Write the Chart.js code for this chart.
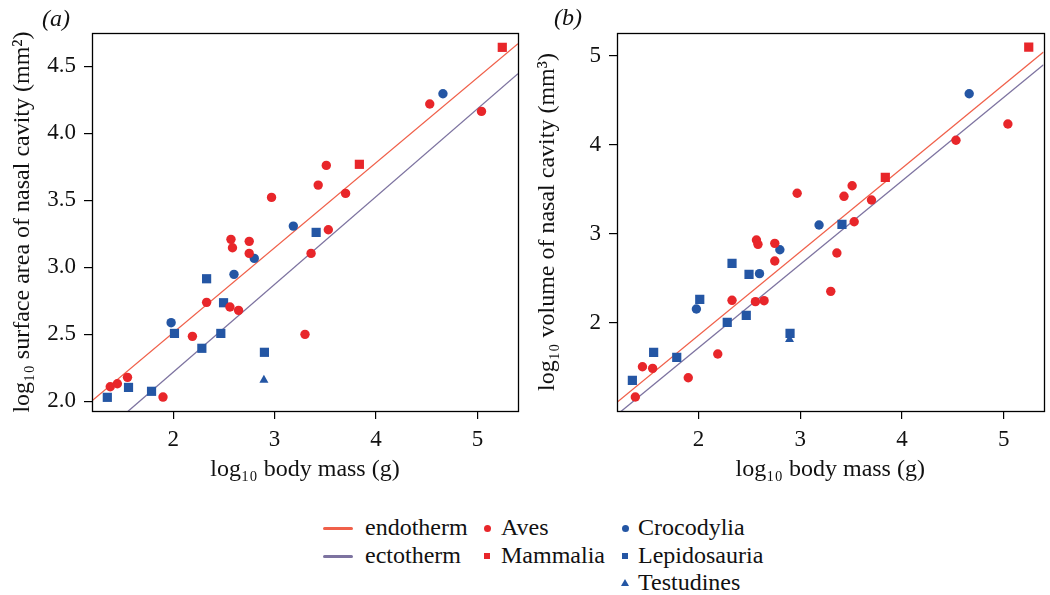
<!DOCTYPE html>
<html>
<head>
<meta charset="utf-8">
<script src="https://cdn.jsdelivr.net/npm/chart.js@4.4.1/dist/chart.umd.min.js"></script>
<style>
  html, body { margin:0; padding:0; background:#fff; }
  body { width:1050px; height:595px; position:relative; overflow:hidden; font-family:"Liberation Serif","DejaVu Serif",serif; color:#111; }
  canvas.c { position:absolute; top:0; }
  .lab { position:absolute; font-style:italic; font-size:24px; line-height:28px; }
  .lg { position:absolute; font-size:24px; line-height:28px; white-space:nowrap; }
  .ln { position:absolute; width:30px; height:3px; border-radius:1.5px; }
  .mk { position:absolute; }
</style>
</head>
<body>
<canvas id="chartA" class="c" width="525" height="500" style="left:0;width:525px;height:500px"></canvas>
<canvas id="chartB" class="c" width="525" height="500" style="left:525px;width:525px;height:500px"></canvas>
<div class="lab" style="left:42px;top:4px">(a)</div>
<div class="lab" style="left:554px;top:3px">(b)</div>

<div id="legend"></div>

<script>
// ---------------- DATA ----------------
// log10 body mass (g) per group
const avesMass   = [5.04, 4.53, 3.51, 3.43, 3.70, 2.97, 3.53, 2.57, 2.75, 2.585, 2.75, 3.36, 2.33, 2.56, 2.645, 2.19, 3.30, 1.38, 1.45, 1.55, 1.90];
const mammMass   = [5.245, 3.836];
const crocMass   = [4.66, 3.185, 2.80, 2.60, 1.98];
const lepiMass   = [3.41, 2.33, 2.497, 2.013, 2.47, 2.283, 2.90, 1.56, 1.787, 1.351];
const testMass   = [2.895];

// (a) log10 surface area of nasal cavity (mm^2)
const avesArea   = [4.164, 4.219, 3.761, 3.614, 3.552, 3.522, 3.281, 3.209, 3.194, 3.146, 3.104, 3.104, 2.739, 2.704, 2.679, 2.485, 2.500, 2.109, 2.131, 2.179, 2.032];
const mammArea   = [4.642, 3.769];
const crocArea   = [4.296, 3.308, 3.067, 2.948, 2.587];
const lepiArea   = [3.261, 2.915, 2.736, 2.507, 2.507, 2.396, 2.366, 2.104, 2.075, 2.030];
const testArea   = [2.159];

// (b) log10 volume of nasal cavity (mm^3)
const avesVol    = [4.235, 4.052, 3.541, 3.422, 3.380, 3.456, 3.136, 2.930, 2.893, 2.882, 2.694, 2.784, 2.252, 2.237, 2.248, 1.648, 2.353, 1.164, 1.505, 1.487, 1.381];
const mammVol    = [5.101, 3.636];
const crocVol    = [4.576, 3.099, 2.821, 2.552, 2.154];
const lepiVol    = [3.107, 2.668, 2.544, 2.263, 2.083, 2.004, 1.881, 1.667, 1.611, 1.352];
const testVol    = [1.813];

// fitted lines [intercept, slope]
const endoFitA = [1.242, 0.6347];
const ectoFitA = [0.907, 0.6552];
const endoFitB = [-0.024, 0.9407];
const ectoFitB = [-0.162, 0.9396];

// axis limits and tick labels
const xRangeA = [1.2, 5.4];
const yRangeA = [1.928, 4.749];
const xRangeB = [1.2, 5.39];
const yRangeB = [1.007, 5.259];
const xTicks  = [2, 3, 4, 5];
const yTicksA = [2.0, 2.5, 3.0, 3.5, 4.0, 4.5];
const yTicksB = [2, 3, 4, 5];

// ---------------- STYLE ----------------
const RED = '#e8262a';
const BLUE = '#2456a4';
const ENDO = '#f0604a';
const ECTO = '#7d73a0';
const FONT = '"Liberation Serif", "DejaVu Serif", serif';

function pts(xs, ys) { return xs.map((x, i) => ({x: x, y: ys[i]})); }
function fitLine(fit, range) { return range.map(x => ({x: x, y: fit[0] + fit[1] * x})); }

const boxPlugin = {
  id: 'box',
  afterDraw(chart) {
    const {ctx, chartArea: a} = chart;
    ctx.save();
    ctx.strokeStyle = '#000';
    ctx.lineWidth = 1.3;
    ctx.strokeRect(Math.round(a.left) + 0.5, Math.round(a.top) + 0.5,
                   Math.round(a.right - a.left), Math.round(a.bottom - a.top));
    ctx.restore();
  }
};

function makeChart(id, ys, fits, xRange, yRange, yTicks, yFmt, yTitle, padRight) {
  const scat = (label, xs, yv, color, style, r) => ({
    type: 'scatter', label, data: pts(xs, yv),
    backgroundColor: color, borderColor: color, borderWidth: 0,
    pointStyle: style, pointRadius: r, pointHoverRadius: r, order: 1
  });
  const line = (label, fit, color) => ({
    type: 'line', label, data: fitLine(fit, xRange),
    borderColor: color, borderWidth: 1.3, pointRadius: 0, fill: false,
    tension: 0, order: 2
  });
  return new Chart(document.getElementById(id), {
    type: 'scatter',
    data: {
      datasets: [
        scat('Aves', avesMass, ys[0], RED, 'circle', 4.7),
        scat('Mammalia', mammMass, ys[1], RED, 'rect', 6.5),
        scat('Crocodylia', crocMass, ys[2], BLUE, 'circle', 4.7),
        scat('Lepidosauria', lepiMass, ys[3], BLUE, 'rect', 6.5),
        scat('Testudines', testMass, ys[4], BLUE, 'triangle', 5.2),
        line('endotherm', fits[0], ENDO),
        line('ectotherm', fits[1], ECTO)
      ]
    },
    options: {
      responsive: false,
      animation: false,
      devicePixelRatio: 1,
      layout: { padding: { top: 33, right: padRight, left: 0, bottom: 0 } },
      plugins: { legend: { display: false }, tooltip: { enabled: false } },
      scales: {
        x: {
          type: 'linear', min: xRange[0], max: xRange[1],
          afterBuildTicks: s => { s.ticks = xTicks.map(v => ({value: v})); },
          afterFit: s => { s.height = 89; },
          grid: { display: true, drawOnChartArea: false, drawTicks: true, tickLength: 8, color: '#000', lineWidth: 1.2 },
          border: { display: false },
          ticks: { color: '#111', padding: 7, font: { family: FONT, size: 23 }, callback: v => String(v) },
          title: { display: true, text: 'log\u2081\u2080 body mass (g)', color: '#111',
                   font: { family: FONT, size: 24 }, padding: { top: 0, bottom: 16 } }
        },
        y: {
          type: 'linear', min: yRange[0], max: yRange[1],
          afterBuildTicks: s => { s.ticks = yTicks.map(v => ({value: v})); },
          afterFit: s => { s.width = 92; },
          grid: { display: true, drawOnChartArea: false, drawTicks: true, tickLength: 8, color: '#000', lineWidth: 1.2 },
          border: { display: false },
          ticks: { color: '#111', padding: 8, font: { family: FONT, size: 23 }, callback: yFmt },
          title: { display: true, text: yTitle, color: '#111',
                   font: { family: FONT, size: 24 }, padding: { top: 8, bottom: 0 } }
        }
      }
    },
    plugins: [boxPlugin]
  });
}

makeChart('chartA', [avesArea, mammArea, crocArea, lepiArea, testArea], [endoFitA, ectoFitA],
          xRangeA, yRangeA, yTicksA, v => Number(v).toFixed(1),
          'log\u2081\u2080 surface area of nasal cavity (mm\u00b2)', 7);
makeChart('chartB', [avesVol, mammVol, crocVol, lepiVol, testVol], [endoFitB, ectoFitB],
          xRangeB, yRangeB, yTicksB, v => String(Math.round(v)),
          'log\u2081\u2080 volume of nasal cavity (mm\u00b3)', 3);

// ---------------- LEGEND (HTML) ----------------
const legendLines = [
  { label: 'endotherm', color: ENDO },
  { label: 'ectotherm', color: ECTO }
];
const legendGroups = [
  { label: 'Aves', color: RED, shape: 'circle', col: 0, row: 0 },
  { label: 'Mammalia', color: RED, shape: 'square', col: 0, row: 1 },
  { label: 'Crocodylia', color: BLUE, shape: 'circle', col: 1, row: 0 },
  { label: 'Lepidosauria', color: BLUE, shape: 'square', col: 1, row: 1 },
  { label: 'Testudines', color: BLUE, shape: 'triangle', col: 1, row: 2 }
];
const lg = document.getElementById('legend');
const rowY = [528, 556, 583];
legendLines.forEach((d, i) => {
  const l = document.createElement('div');
  l.className = 'ln';
  l.style.left = '323px'; l.style.top = (rowY[i] - 1.5) + 'px'; l.style.background = d.color;
  lg.appendChild(l);
  const t = document.createElement('div');
  t.className = 'lg'; t.textContent = d.label;
  t.style.left = '365px'; t.style.top = (rowY[i] - 15) + 'px';
  lg.appendChild(t);
});
const colMarkX = [487, 625];
const colTextX = [501, 638];
legendGroups.forEach(d => {
  const cy = rowY[d.row], cx = colMarkX[d.col];
  const m = document.createElement('div');
  m.className = 'mk';
  if (d.shape === 'circle') {
    m.style.cssText += `left:${cx-3.5}px;top:${cy-3.5}px;width:7px;height:7px;border-radius:50%;background:${d.color}`;
  } else if (d.shape === 'square') {
    m.style.cssText += `left:${cx-3}px;top:${cy-3}px;width:6px;height:6px;background:${d.color}`;
  } else {
    m.style.cssText += `left:${cx-4}px;top:${cy-4}px;width:0;height:0;border-left:4px solid transparent;border-right:4px solid transparent;border-bottom:7px solid ${d.color}`;
  }
  lg.appendChild(m);
  const t = document.createElement('div');
  t.className = 'lg'; t.textContent = d.label;
  t.style.left = colTextX[d.col] + 'px'; t.style.top = (cy - 15) + 'px';
  lg.appendChild(t);
});
</script>
</body>
</html>
